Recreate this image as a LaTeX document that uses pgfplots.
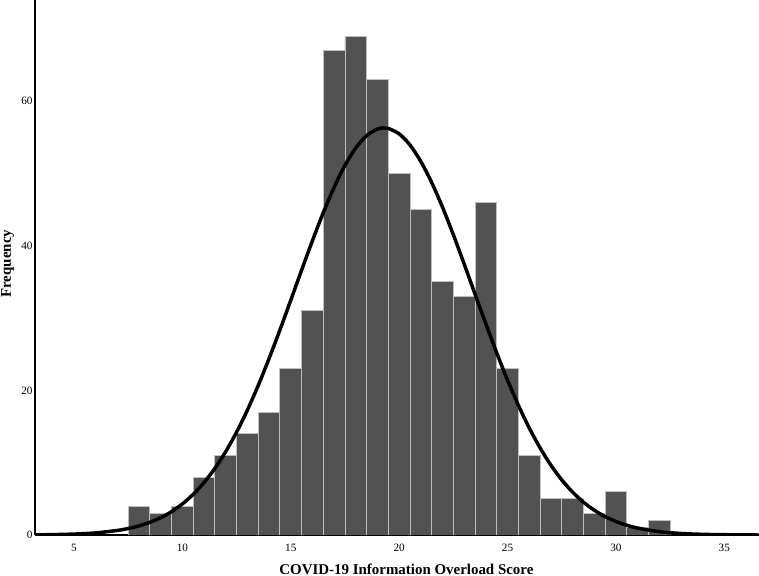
\documentclass[border=0pt]{standalone}
\usepackage{fontspec}
\setmainfont{Liberation Serif}
\usepackage{pgfplots}
\pgfplotsset{compat=1.18}
\definecolor{barfill}{RGB}{82,82,82}
\definecolor{baredge}{RGB}{190,190,190}
\begin{document}
\begin{tikzpicture}
\begin{axis}[
  width=543pt, height=401.25pt, scale only axis,
  xmin=3.2, xmax=36.6, ymin=0, ymax=74,
  axis lines=left, axis line style={-, line width=2.2pt},
  major tick length=0pt,
  xtick={5,10,...,35}, ytick={0,20,40,60},
  tick label style={font=\fontsize{8.4}{10}\selectfont},
  /pgf/number format/assume math mode=true,
  xticklabel style={anchor=north, inner sep=0pt, yshift=-6.75pt},
  yticklabel style={anchor=east, inner sep=0pt, xshift=-1.7pt},
  xlabel={COVID-19 Information Overload Score},
  ylabel={Frequency},
  label style={font=\bfseries\fontsize{11.2}{13}\selectfont},
  xlabel style={at={(axis description cs:0.513,0)}, anchor=base, yshift=-29.3pt},
  ylabel style={at={(axis description cs:0,0.507)}, anchor=base, yshift=18pt},
]
% histogram counts
\addplot[ybar, bar width=1, fill=barfill, draw=baredge, line width=0.7pt] coordinates {
  (8,4) (9,3) (10,4) (11,8) (12,11) (13,14) (14,17) (15,23) (16,31)
  (17,67) (18,69) (19,63) (20,50) (21,45) (22,35) (23,33) (24,46)
  (25,23) (26,11) (27,5) (28,5) (29,3) (30,6) (31,1) (32,2)
};
% fitted normal curve
\addplot[black, line width=2.6pt, smooth] coordinates {
  (3.2,0.02) (4,0.05) (5,0.13) (6,0.29) (7,0.63) (7.5,0.90) (8,1.26) (8.5,1.75)
  (9,2.40) (9.5,3.23) (10,4.30) (10.5,5.63) (11,7.26) (11.5,9.22) (12,11.54)
  (12.5,14.23) (13,17.29) (13.5,20.70) (14,24.42) (14.5,28.37) (15,32.48)
  (15.5,36.64) (16,40.72) (16.5,44.59) (17,48.10) (17.5,51.13) (18,53.54)
  (18.5,55.24) (19,56.15) (19.3,56.30) (19.5,56.23) (20,55.48) (20.5,53.94)
  (21,51.66) (21.5,48.75) (22,45.33) (22.5,41.52) (23,37.47) (23.5,33.31)
  (24,29.19) (24.5,25.19) (25,21.42) (25.5,17.95) (26,14.81) (26.5,12.05)
  (27,9.65) (27.5,7.62) (28,5.93) (28.5,4.54) (29,3.43) (29.5,2.55) (30,1.87)
  (30.5,1.35) (31,0.96) (32,0.46) (33,0.21) (34,0.09) (35,0.04) (36,0.01) (36.6,0.00)
};
\coordinate (BL) at (rel axis cs:0,0);
\coordinate (TR) at (rel axis cs:1,1);
\end{axis}
\pgfresetboundingbox
\path[use as bounding box] ([xshift=-26.25pt,yshift=-30.75pt]BL) rectangle (TR);
\end{tikzpicture}
\end{document}
